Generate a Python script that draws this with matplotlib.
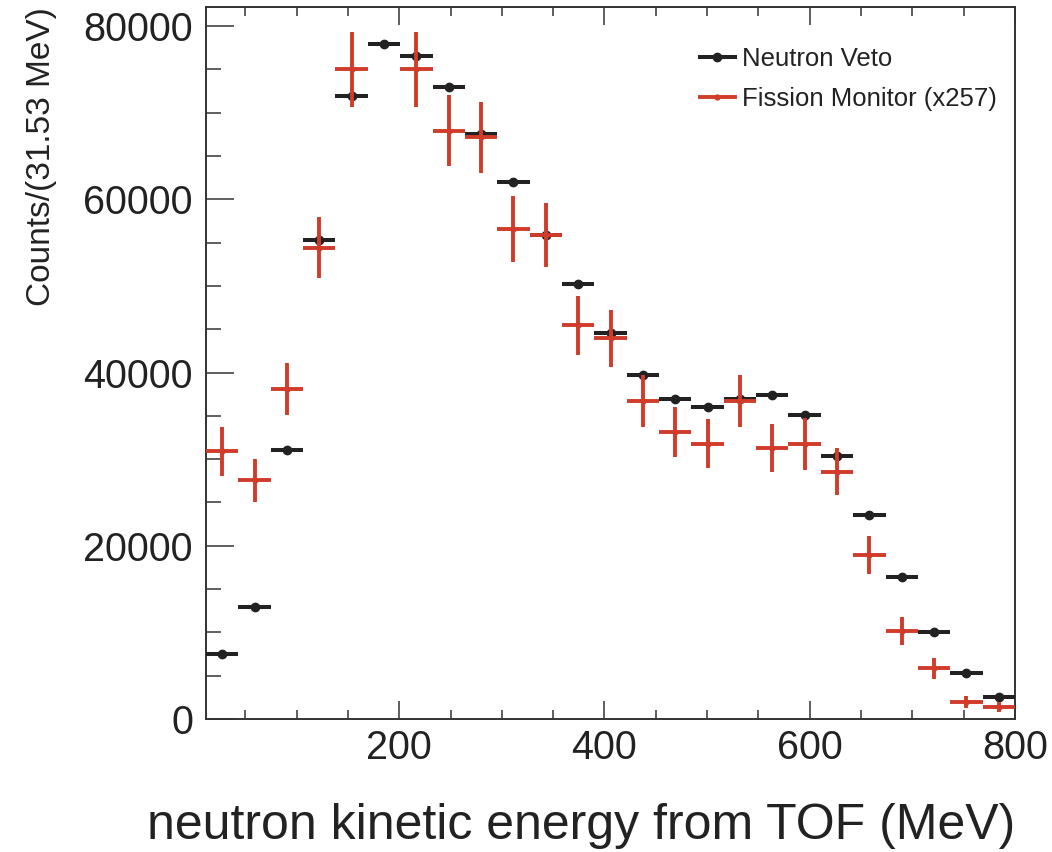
import matplotlib
matplotlib.use("Agg")
import matplotlib.pyplot as plt
import numpy as np
from matplotlib import font_manager
from matplotlib.lines import Line2D
from matplotlib.ticker import MultipleLocator

# histogram binning (ROOT style: 25 bins of 31.53 MeV ending at 800)
BIN_LO = 11.75
BIN_WIDTH = 31.53
N_BINS = 25

# Neutron Veto counts per bin
veto_counts = [7500, 12900, 31050, 55300, 71950, 77950, 76500, 73000, 67500, 62000,
               55900, 50250, 44600, 39700, 36900, 36050, 36900, 37400, 35100, 30400,
               23600, 16400, 10100, 5300, 2500]

# Fission Monitor counts (scaled x257) and their errors; bin 6 has no point
fission_counts = [30900, 27550, 38100, 54400, 75000, np.nan, 75000, 67900, 67150, 56600,
                  55900, 45450, 43950, 36700, 33100, 31800, 36750, 31300, 31800, 28550,
                  18900, 10200, 5850, 2000, 1420]
fission_err = [2800, 2500, 3000, 3500, 4300, np.nan, 4300, 4100, 4100, 3800,
               3700, 3400, 3300, 3000, 2900, 2800, 3000, 2800, 3000, 2700,
               2200, 1600, 1200, 700, 600]

BLACK = "#222222"
RED = "#d13b2a"
AXIS_COLOR = "#333333"

plt.rcParams["font.family"] = ["Liberation Sans", "DejaVu Sans"]

# the y title in the original is a condensed face; use one if the system has it
names = {f.name for f in font_manager.fontManager.ttflist}
if "Liberation Sans Narrow" in names:
    ylab_family, ylab_size, ylab_pad = ["Liberation Sans Narrow", "Liberation Sans"], 29, 14
else:
    ylab_family, ylab_size, ylab_pad = ["Liberation Sans", "DejaVu Sans"], 24, 19

centers = BIN_LO + BIN_WIDTH * (np.arange(N_BINS) + 0.5)
half = BIN_WIDTH / 2

fig = plt.figure(figsize=(10.52, 8.52), dpi=100)
ax = fig.add_axes([206 / 1052, 1 - 719 / 852, (1015 - 206) / 1052, (719 - 7) / 852])

ax.errorbar(centers, veto_counts, xerr=half, fmt="o", color=BLACK, ms=6,
            elinewidth=2.9, capsize=0, zorder=3)
ax.errorbar(centers, fission_counts, xerr=half, yerr=fission_err, fmt="o", color=RED,
            ms=3.5, elinewidth=2.8, capsize=0, zorder=4)

ax.set_xlim(BIN_LO, 800)
ax.set_ylim(0, 82200)
ax.xaxis.set_major_locator(MultipleLocator(200))
ax.xaxis.set_minor_locator(MultipleLocator(50))
ax.yaxis.set_major_locator(MultipleLocator(20000))
ax.yaxis.set_minor_locator(MultipleLocator(5000))

for s in ax.spines.values():
    s.set_color(AXIS_COLOR)
    s.set_linewidth(1.4)

ax.tick_params(axis="both", which="both", direction="in", colors=AXIS_COLOR,
               labelcolor="#222222", labelsize=28.5, width=1.1)
ax.tick_params(axis="x", which="both", top=True, bottom=True, pad=7)
ax.tick_params(axis="x", which="major", length=13)
ax.tick_params(axis="x", which="minor", length=6.5)
ax.tick_params(axis="y", which="both", left=True, right=False, pad=9.4)
ax.tick_params(axis="y", which="major", length=20)
ax.tick_params(axis="y", which="minor", length=10.5)

ax.set_xlabel("neutron kinetic energy from TOF (MeV)", loc="right", fontsize=36,
              color="#222222", labelpad=26)
ax.set_ylabel("Counts/(31.53 MeV)", loc="top", fontsize=ylab_size, family=ylab_family,
              color="#222222", labelpad=ylab_pad)

handles = [
    Line2D([], [], color=BLACK, lw=2.9, marker="o", ms=6),
    Line2D([], [], color=RED, lw=2.8, marker="o", ms=3.5),
]
ax.legend(handles, ["Neutron Veto", "Fission Monitor (x257)"], loc="upper left",
          bbox_to_anchor=(700 / 1052, 1 - 47 / 852), bbox_transform=fig.transFigure,
          frameon=False, fontsize=18.5, borderpad=0, borderaxespad=0,
          handlelength=1.35, handletextpad=0.28, labelspacing=0.62, labelcolor="#222222")

fig.savefig("out.png", dpi=100)
